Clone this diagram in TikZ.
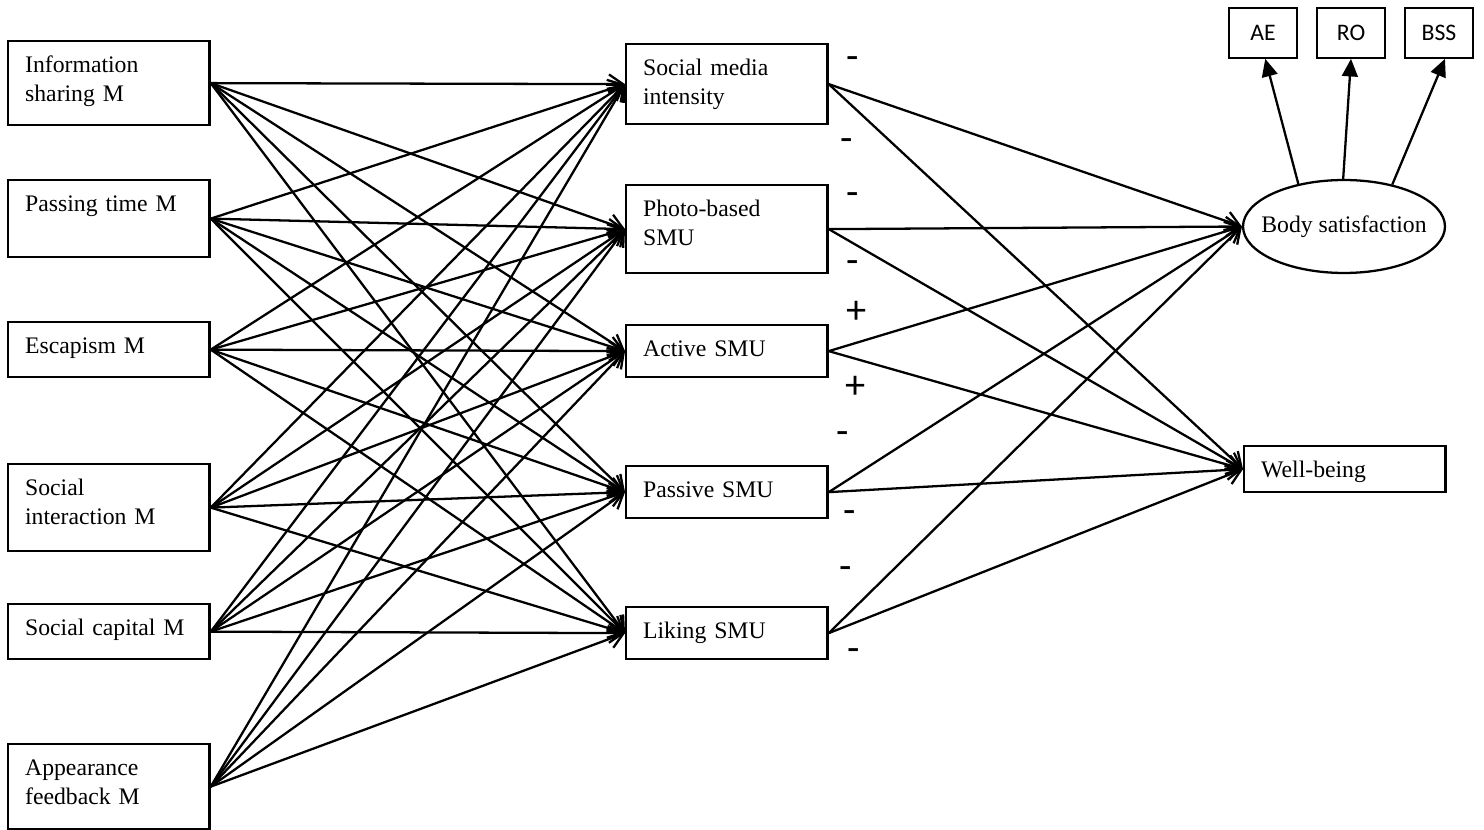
\documentclass[tikz,border=0pt]{standalone}
\usepackage{fontspec}
\setmainfont{Liberation Serif}
\newfontfamily\carlito{Carlito}
\usetikzlibrary{arrows.meta,shapes.geometric}

\tikzset{
  mbox/.style={draw, line width=1.3pt, anchor=north west, align=left, text width=3.35cm,
    inner xsep=0.34cm, inner ysep=0.16cm, text height=0.46cm, text depth=#1,
    font=\fontsize{13.5}{16.5}\selectfont},
  ibox/.style={draw, line width=1pt, minimum width=1.36cm, minimum height=1cm,
    font=\carlito\fontsize{13.5}{15}\selectfont},
  sign/.style={font=\carlito\fontsize{23}{24}\selectfont, inner sep=0pt},
  arr/.style={line width=1.3pt, -{Straight Barb[length=8pt,width=11pt]}},
  farr/.style={line width=1.3pt, -{Triangle[length=10pt,width=9pt]}}
}

\begin{document}
\begin{tikzpicture}[x=0.02cm, y=-0.02cm]
  \useasboundingbox (0,0) rectangle (1484,830);

  % Motives
  \node[mbox=0.90cm] (info) at (7,40) {Information\\sharing M};
  \node[mbox=0.76cm] (pass) at (7,179) {Passing time M};
  \node[mbox=0.32cm] (esc) at (7,321) {Escapism M};
  \node[mbox=0.96cm] (socint) at (7,463) {Social\\interaction M};
  \node[mbox=0.32cm] (soccap) at (7,603) {Social capital M};
  \node[mbox=0.92cm] (appfb) at (7,743) {Appearance\\feedback M};

  % Social media use
  \node[mbox=0.82cm] (smi) at (625,43) {Social media\\intensity};
  \node[mbox=0.98cm] (photo) at (625,184) {Photo-based\\SMU};
  \node[mbox=0.26cm] (active) at (625,324) {Active SMU};
  \node[mbox=0.26cm] (passive) at (625,465) {Passive SMU};
  \node[mbox=0.26cm] (liking) at (625,606) {Liking SMU};

  % Outcomes
  \node[draw, ellipse, line width=1.3pt, minimum width=4.04cm, minimum height=1.86cm,
    inner sep=0pt, font=\fontsize{13.5}{16.5}\selectfont] (body) at (1344,226.5)
    {\makebox[2cm]{Body satisfaction}};
  \node[mbox=0.14cm] (well) at (1243,445) {Well-being};

  % Indicators
  \node[ibox] (ae) at (1263,33) {AE};
  \node[ibox] (ro) at (1351,33) {RO};
  \node[ibox] (bss) at (1439,33) {BSS};

  \draw[farr] (body.137) -- (ae.-85);
  \draw[farr] (body.91) -- (ro.south);
  \draw[farr] (body.41) -- (bss.-77);

  % Paths
  \foreach \a in {info,pass,esc,socint,soccap,appfb}
    \foreach \b in {smi,photo,active,passive,liking}
      \draw[arr] (\a.east) -- (\b.west);
  \foreach \b in {smi,photo,active,passive,liking}{
    \draw[arr] (\b.east) -- (body.west);
    \draw[arr] (\b.east) -- (well.west);
  }

  % Signs
  \foreach \p/\s [count=\i] in {{(853,63)}/-, {(847,145)}/-, {(853,199)}/-, {(853,267)}/-,
      {(857,312)}/+, {(856,387)}/+, {(843,438)}/-, {(850,517)}/-, {(846,573)}/-, {(854,655)}/-}
    \node[sign] (s\i) at \p {\s};
\end{tikzpicture}
\end{document}
